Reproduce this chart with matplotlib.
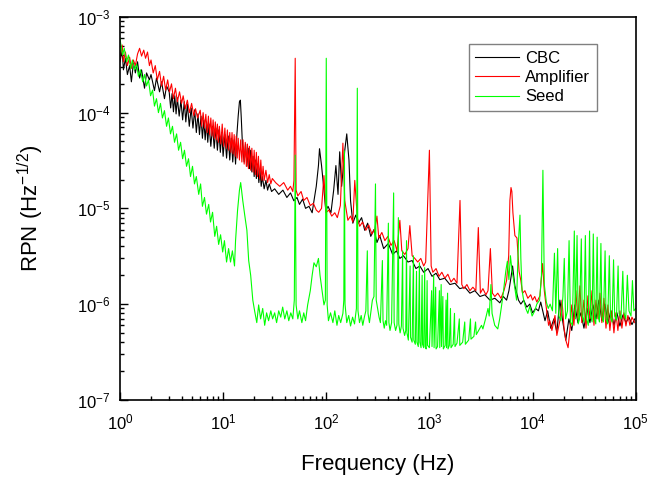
import matplotlib
matplotlib.use("Agg")
import matplotlib.pyplot as plt

plt.rcParams['font.family'] = ['Liberation Sans', 'DejaVu Sans']
plt.rcParams['mathtext.default'] = 'regular'

# (frequency Hz, RPN Hz^-1/2)
cbc_points = [
    (1.0, 3.4e-4), (1.05, 4.5e-4), (1.08, 2.8e-4), (1.13, 3.7e-4), (1.18, 2.5e-4),
    (1.24, 3.1e-4), (1.29, 2.1e-4), (1.35, 3.3e-4), (1.41, 2.6e-4), (1.48, 3.4e-4),
    (1.55, 2.3e-4), (1.62, 2.8e-4), (1.73, 1.8e-4), (1.81, 2.6e-4), (1.93, 2.2e-4),
    (2.0, 2.5e-4), (2.16, 1.7e-4), (2.26, 2.3e-4), (2.42, 1.65e-4), (2.53, 2.1e-4),
    (2.7, 1.4e-4), (2.83, 1.9e-4),
    (3.0, 1.65e-4), (3.1, 1.12e-4), (3.2, 1.58e-4), (3.3, 1.02e-4), (3.4, 1.5e-4),
    (3.5, 9.7e-5), (3.6, 1.43e-4), (3.75, 9.2e-5), (3.9, 1.35e-4), (4.05, 8.4e-5),
    (4.2, 1.3e-4), (4.35, 8e-5), (4.5, 1.23e-4), (4.7, 7.2e-5), (4.9, 1.12e-4),
    (5.1, 6.9e-5), (5.3, 1.07e-4), (5.5, 6.2e-5), (5.7, 9.7e-5), (5.9, 5.9e-5),
    (6.1, 9.2e-5), (6.3, 5.4e-5), (6.5, 8.4e-5), (6.7, 5.2e-5), (6.9, 8e-5),
    (7.1, 4.9e-5), (7.3, 7.6e-5), (7.6, 4.45e-5), (7.9, 7.2e-5), (8.2, 4.25e-5),
    (8.5, 6.9e-5), (8.8, 4.05e-5), (9.1, 6.6e-5), (9.4, 3.85e-5), (9.7, 6.2e-5),
    (10.0, 3.5e-5), (10.4, 5.9e-5), (10.8, 3.35e-5), (11.2, 5.7e-5), (11.6, 3.2e-5),
    (12.0, 5.4e-5), (12.4, 3.05e-5), (12.8, 5.2e-5), (13.2, 2.9e-5), (13.6, 5.9e-5),
    (14.0, 9.2e-5), (14.4, 1.3e-4), (14.7, 1.35e-4), (15.0, 8.8e-5), (15.4, 4.6e-5),
    (16.0, 3.05e-5), (16.5, 4.7e-5), (17.0, 2.75e-5), (17.5, 4.25e-5), (18.0, 2.6e-5),
    (18.5, 4.05e-5), (19.0, 2.4e-5), (19.5, 3.5e-5), (20.0, 2.15e-5), (20.5, 3.2e-5),
    (21.0, 2.05e-5), (21.6, 2.9e-5), (22.2, 1.86e-5), (22.8, 2.5e-5), (23.4, 1.7e-5),
    (24.0, 2.15e-5), (25.0, 1.6e-5), (26.0, 1.96e-5), (27.0, 1.55e-5), (28.0, 1.8e-5),
    (29.5, 1.5e-5), (31.6, 1.6e-5), (34.6, 1.4e-5), (38, 1.55e-5), (41.5, 1.3e-5),
    (45, 1.45e-5), (48.5, 1.2e-5), (52, 1.3e-5), (55, 1.1e-5), (59, 1.25e-5),
    (63, 1e-5), (68, 1.05e-5), (73, 9e-6), (76, 1.2e-5), (80, 1.7e-5),
    (84, 2.8e-5), (86, 4.2e-5), (90, 2.8e-5), (95, 1.55e-5), (99, 9.5e-6),
    (104, 1.05e-5), (111, 9e-6), (118, 1.55e-5), (124, 2.8e-5), (130, 1.4e-5),
    (135, 3.9e-5), (141, 1.7e-5), (151, 4e-5), (158, 6e-5), (166, 3.2e-5),
    (172, 1.2e-5), (181, 7e-6), (193, 8.5e-6), (205, 7e-6), (220, 8e-6),
    (236, 5.9e-6), (252, 7e-6), (270, 5.1e-6), (290, 6e-6), (310, 4.4e-6),
    (330, 5.2e-6), (360, 3.8e-6), (400, 4.3e-6), (440, 3.3e-6), (480, 3.6e-6),
    (517, 3e-6), (560, 3.2e-6), (620, 2.75e-6), (680, 2.85e-6), (740, 2.35e-6),
    (808, 2.5e-6), (880, 2.15e-6), (970, 2.35e-6), (1060, 1.95e-6), (1160, 2.1e-6),
    (1260, 1.8e-6), (1410, 1.86e-6), (1580, 1.6e-6), (1770, 1.65e-6), (1970, 1.45e-6),
    (2210, 1.5e-6), (2470, 1.3e-6), (2760, 1.38e-6), (3090, 1.2e-6), (3450, 1.25e-6),
    (3860, 1.1e-6), (4310, 1.15e-6), (4820, 1.03e-6), (5200, 1.2e-6), (5600, 1.1e-6),
    (5900, 1.38e-6), (6200, 1.95e-6), (6400, 2.5e-6), (6740, 1.55e-6), (7300, 1.1e-6),
    (7700, 1.0e-6), (8200, 1.1e-6), (8800, 9.3e-7), (9400, 1.0e-6), (10000, 8.1e-7),
    (10700, 9e-7), (11400, 8.5e-7), (12000, 1.05e-6), (13200, 6.7e-7), (14000, 8.5e-7),
    (15000, 5.6e-7), (16100, 7e-7), (17200, 5.1e-7), (18400, 1.1e-6), (19700, 6.4e-7),
    (21000, 4.2e-7), (22500, 7e-7), (24000, 5.3e-7), (25700, 9.8e-7), (27500, 6.4e-7),
    (29400, 8.1e-7), (31500, 5.6e-7), (33700, 9e-7), (36000, 6.4e-7), (38500, 9.8e-7),
    (41200, 7e-7), (44000, 1.1e-6), (47000, 6.7e-7), (50300, 1e-6), (53800, 6.4e-7),
    (57500, 8.5e-7), (61500, 6e-7), (65800, 8.1e-7), (70300, 5.9e-7), (75200, 7.7e-7),
    (80400, 6.4e-7), (86000, 7.3e-7), (92000, 6.1e-7), (98000, 7e-7),
]

amp_points = [
    (1.0, 3.7e-4), (1.05, 5.1e-4), (1.08, 3.4e-4), (1.13, 4.3e-4), (1.18, 3.1e-4),
    (1.24, 3.8e-4), (1.29, 2.9e-4), (1.35, 3.55e-4), (1.41, 3.1e-4), (1.48, 4.1e-4),
    (1.55, 4.7e-4), (1.62, 3.9e-4), (1.7, 4.5e-4), (1.77, 3.7e-4), (1.85, 4.3e-4),
    (1.93, 3.1e-4), (2.0, 3.55e-4), (2.1, 2.6e-4), (2.2, 3.1e-4), (2.3, 2.2e-4),
    (2.42, 2.7e-4), (2.53, 1.9e-4), (2.65, 2.4e-4), (2.77, 1.72e-4), (2.9, 2.2e-4),
    (3.02, 1.65e-4), (3.16, 2e-4), (3.3, 1.4e-4), (3.45, 1.8e-4), (3.6, 1.3e-4),
    (3.78, 1.65e-4), (3.96, 1.25e-4), (4.1, 1.5e-4), (4.3, 1.1e-4), (4.5, 1.35e-4),
    (4.72, 1e-4), (4.95, 1.25e-4), (5.2, 9.3e-5), (5.4, 1.1e-4), (5.65, 8.8e-5),
    (6.0, 1.06e-4), (6.2, 7.2e-5), (6.4, 1.0e-4), (6.6, 6.9e-5), (6.8, 9.6e-5),
    (7.0, 6.2e-5), (7.2, 9.2e-5), (7.4, 5.9e-5), (7.6, 8.8e-5), (7.8, 5.7e-5),
    (8.0, 8.4e-5), (8.2, 5.4e-5), (8.4, 8e-5), (8.6, 5.2e-5), (8.8, 7.6e-5),
    (9.0, 4.9e-5), (9.2, 7.2e-5), (9.5, 4.7e-5), (9.8, 7.6e-5), (10.1, 4.45e-5),
    (10.4, 6.9e-5), (10.7, 4.25e-5), (11.0, 6.6e-5), (11.3, 4.05e-5), (11.6, 6.2e-5),
    (11.9, 3.85e-5), (12.2, 6.2e-5), (12.5, 3.7e-5), (12.8, 5.9e-5), (13.1, 3.5e-5),
    (13.4, 5.7e-5), (13.7, 3.35e-5), (14.0, 5.4e-5), (14.4, 3.2e-5), (14.8, 5.2e-5),
    (15.2, 3.05e-5), (15.6, 5.2e-5), (16.0, 2.9e-5), (16.4, 4.9e-5), (16.8, 2.75e-5),
    (17.2, 4.7e-5), (17.6, 2.6e-5), (18.0, 4.45e-5), (18.5, 2.5e-5), (19.0, 4.25e-5),
    (19.5, 2.4e-5), (20.0, 4.05e-5), (20.5, 2.25e-5), (21.0, 3.85e-5), (21.5, 2.15e-5),
    (22.0, 3.5e-5), (22.6, 2.05e-5), (23.2, 3.2e-5), (23.8, 1.96e-5), (24.4, 2.75e-5),
    (25.0, 1.96e-5), (26.0, 2.5e-5), (27.0, 1.86e-5), (28.0, 2.25e-5), (29.0, 1.8e-5),
    (30.0, 2.05e-5), (32.4, 1.85e-5), (35.4, 1.7e-5), (38.7, 1.86e-5), (42.3, 1.55e-5),
    (45, 1.7e-5), (47.4, 1.5e-5), (48.6, 1.96e-5), (50, 3.7e-4), (51, 1.55e-5),
    (53, 1.35e-5), (57, 1.5e-5), (60.5, 1.21e-5), (65, 1.3e-5), (70, 1.07e-5),
    (75, 1.13e-5), (80, 9.6e-6), (84.5, 9.1e-6), (90, 1e-5), (95, 2.2e-5),
    (99, 9e-6), (106, 9.6e-6), (113, 8.3e-6), (121, 9e-6), (128, 8e-6),
    (137, 1.07e-5), (145, 4.8e-5), (151, 1.21e-5), (162, 7.5e-6), (172, 8.3e-6),
    (181, 7.2e-6), (189, 1.96e-5), (200, 8e-6), (211, 6.5e-6), (225, 7.2e-6),
    (242, 5.9e-6), (258, 6.7e-6), (277, 5.4e-6), (296, 6.1e-6), (310, 8.3e-6),
    (323, 4.9e-6), (346, 5.6e-6), (370, 4.6e-6), (396, 5.1e-6), (424, 4.1e-6),
    (455, 4.6e-6), (485, 3.6e-6), (517, 7.5e-6), (540, 3.6e-6), (578, 3.3e-6),
    (620, 3.8e-6), (646, 6.6e-6), (680, 3.2e-6), (722, 3e-6), (770, 2.75e-6),
    (825, 3e-6), (880, 2.5e-6), (920, 2.75e-6), (1000, 4.05e-5), (1040, 2.5e-6),
    (1080, 2.15e-6), (1160, 2.35e-6), (1240, 1.95e-6), (1320, 2.15e-6), (1410, 1.86e-6),
    (1510, 2.05e-6), (1620, 1.7e-6), (1730, 1.86e-6), (1850, 1.65e-6), (1980, 1.21e-5),
    (2060, 1.6e-6), (2160, 1.45e-6), (2310, 1.6e-6), (2470, 1.38e-6), (2640, 1.5e-6),
    (2820, 1.38e-6), (2980, 6.3e-6), (3120, 1.3e-6), (3300, 1.45e-6), (3530, 1.25e-6),
    (3700, 1.38e-6), (3900, 3.8e-6), (4080, 1.3e-6), (4310, 1.2e-6), (4600, 1.3e-6),
    (4940, 1.15e-6), (5280, 1.38e-6), (5600, 1.76e-6), (5870, 3.2e-6), (6030, 1.21e-5),
    (6180, 1.65e-5), (6300, 1.5e-5), (6450, 9e-6), (6740, 5.2e-6), (7060, 4.9e-6),
    (7400, 2.2e-6), (7700, 1.76e-6), (8000, 1.3e-6), (8430, 1.38e-6), (9000, 1.15e-6),
    (9600, 1.25e-6), (10000, 1.1e-6), (10500, 1.2e-6), (11000, 1.05e-6), (11800, 1.22e-6),
    (12500, 2.65e-6), (13000, 1.38e-6), (13700, 8.5e-7), (14300, 6e-7), (14700, 6.7e-7),
    (15400, 5.3e-7), (16500, 7.6e-7), (17200, 4.7e-7), (18400, 6.7e-7), (19300, 1.1e-6),
    (20200, 5.6e-7), (21000, 4.2e-7), (22100, 3.5e-7), (23000, 5.3e-7), (24000, 9.8e-7),
    (25200, 6e-7), (26300, 1.38e-6), (27500, 7e-7), (28800, 1.55e-6), (30000, 6.4e-7),
    (31500, 1.1e-6), (33000, 5.6e-7), (34400, 1.22e-6), (36000, 7e-7), (37700, 1.38e-6),
    (39400, 6e-7), (41200, 1.1e-6), (43100, 7e-7), (45000, 1.3e-6), (47000, 6.4e-7),
    (49200, 1.15e-6), (51500, 5.6e-7), (53800, 9.8e-7), (56200, 5.3e-7), (58800, 8.5e-7),
    (61500, 5e-7), (64300, 8.1e-7), (67200, 5.3e-7), (70300, 8.5e-7), (73500, 5.6e-7),
    (76800, 8.1e-7), (80400, 5.9e-7), (84000, 7.6e-7), (87900, 6e-7), (92000, 7.3e-7),
    (98000, 6.4e-7),
]

seed_points = [
    (1.0, 6e-4), (1.01, 5.5e-4), (1.06, 4e-4), (1.1, 4.7e-4), (1.16, 3.4e-4),
    (1.21, 4e-4), (1.27, 2.9e-4), (1.32, 3.55e-4), (1.38, 2.8e-4), (1.45, 3.2e-4),
    (1.51, 2.4e-4), (1.58, 2.8e-4), (1.66, 2.1e-4), (1.73, 2.5e-4), (1.81, 1.9e-4),
    (1.89, 2.2e-4), (1.98, 1.5e-4), (2.07, 1.72e-4), (2.16, 1.17e-4), (2.26, 1.4e-4),
    (2.36, 1.0e-4), (2.47, 1.25e-4), (2.58, 8.8e-5), (2.7, 1.05e-4), (2.83, 7.2e-5),
    (2.95, 8.8e-5), (3.09, 6e-5), (3.23, 7.2e-5), (3.38, 4.9e-5), (3.54, 6e-5),
    (3.7, 4.05e-5), (3.87, 4.9e-5), (4.05, 3.3e-5), (4.22, 4.05e-5), (4.42, 2.75e-5),
    (4.62, 3.3e-5), (4.83, 2.15e-5), (5.05, 2.75e-5), (5.28, 1.8e-5), (5.5, 2.15e-5),
    (5.8, 1.4e-5), (6.05, 1.8e-5), (6.3, 1.05e-5), (6.6, 1.3e-5), (6.9, 8.7e-6),
    (7.25, 1.1e-5), (7.55, 7.2e-6), (7.9, 9.1e-6), (8.3, 5.1e-6), (8.65, 6.5e-6),
    (9.05, 4.2e-6), (9.45, 5.3e-6), (9.9, 3.5e-6), (10.3, 4.6e-6), (10.8, 2.75e-6),
    (11.3, 3.8e-6), (11.8, 2.75e-6), (12.3, 3.6e-6), (12.9, 2.5e-6), (13.2, 4.6e-6),
    (13.8, 9.5e-6), (14.4, 1.55e-5), (14.8, 1.86e-5), (15.5, 1.21e-5), (16.2, 8.5e-6),
    (17.0, 5.9e-6), (17.7, 2.85e-6), (18.5, 2e-6), (19.4, 1.1e-6), (20.2, 8.5e-7),
    (21.2, 6.4e-7), (22.1, 9.8e-7), (23.1, 7e-7), (24.2, 9e-7), (25.3, 6e-7),
    (26.4, 8.1e-7), (27.6, 6.7e-7), (29, 8.5e-7), (30.2, 7e-7), (31.6, 8.1e-7),
    (33, 6.4e-7), (34.6, 8.5e-7), (36.2, 7.3e-7), (37.8, 9.3e-7), (39.6, 7e-7),
    (41.5, 8.5e-7), (43.3, 6.7e-7), (45.3, 8.1e-7), (47.4, 7e-7), (49, 1.1e-6),
    (50, 3.6e-5), (51, 9.8e-7), (53, 7e-7), (55, 8.5e-7), (58, 6.4e-7),
    (60.5, 8.1e-7), (63, 6.7e-7), (66, 9.8e-7), (70, 1.38e-6), (73, 2e-6),
    (76, 2.7e-6), (80, 2.45e-6), (84, 3e-6), (87, 2e-6), (91, 1.38e-6),
    (95, 9.8e-7), (98, 1.1e-6), (100, 3.7e-4), (102, 9.8e-7), (105, 6.7e-7),
    (110, 8.1e-7), (116, 6.4e-7), (121, 8.5e-7), (127, 6e-7), (132, 7.6e-7),
    (138, 6.4e-7), (145, 8e-7), (148, 1.1e-6), (150, 4.0e-5), (152, 1.0e-6),
    (158, 6.4e-7), (165, 7.6e-7), (172, 5.9e-7), (180, 7.3e-7), (188, 6.2e-7),
    (196, 9e-7), (200, 1.8e-4), (203, 8.5e-7), (210, 6.4e-7), (218, 7.6e-7),
    (226, 6e-7), (234, 7.3e-7), (242, 8.5e-7), (250, 3.6e-6), (254, 8e-7),
    (262, 6.4e-7), (270, 8.1e-7), (280, 1.1e-6), (290, 1.2e-6), (300, 1.8e-5),
    (305, 1.1e-6), (315, 9e-7), (325, 7.3e-7), (335, 6.4e-7), (350, 2.85e-6),
    (355, 6.7e-7), (365, 5.6e-7), (375, 6.7e-7), (385, 6e-7), (400, 7e-6),
    (405, 6.4e-7), (415, 5.3e-7), (430, 6.4e-7), (450, 1.45e-5), (455, 6.4e-7),
    (470, 5.3e-7), (485, 6e-7), (500, 8e-6), (505, 6.2e-7), (520, 5e-7),
    (535, 5.9e-7), (550, 3.6e-6), (555, 5.6e-7), (575, 4.7e-7), (590, 5.3e-7),
    (600, 4.6e-6), (606, 5e-7), (625, 4.2e-7), (650, 2.5e-6), (656, 4.5e-7),
    (680, 4e-7), (700, 3.2e-6), (706, 4.2e-7), (730, 3.8e-7), (750, 2.2e-6),
    (757, 4e-7), (780, 3.6e-7), (800, 2.7e-6), (808, 4e-7), (830, 3.5e-7),
    (850, 2e-6), (858, 3.8e-7), (880, 3.5e-7), (900, 2.4e-6), (910, 3.6e-7),
    (930, 3.4e-7), (950, 1.76e-6), (960, 3.7e-7), (1000, 3.5e-7), (1050, 1.38e-6),
    (1060, 3.6e-7), (1100, 2e-6), (1110, 3.5e-7), (1150, 1.5e-6), (1160, 3.4e-7),
    (1200, 3.6e-7), (1250, 1.38e-6), (1260, 3.5e-7), (1300, 1.6e-6), (1310, 3.6e-7),
    (1350, 1.2e-6), (1365, 3.4e-7), (1420, 3.7e-7), (1450, 1.1e-6), (1465, 3.5e-7),
    (1500, 1.3e-6), (1515, 3.4e-7), (1560, 3.7e-7), (1600, 9e-7), (1620, 3.5e-7),
    (1700, 3.8e-7), (1750, 8e-7), (1770, 3.6e-7), (1850, 3.9e-7), (1950, 7e-7),
    (1970, 3.7e-7), (2100, 4e-7), (2200, 6.5e-7), (2230, 3.8e-7), (2400, 4.2e-7),
    (2500, 7e-7), (2530, 4.3e-7), (2700, 4.6e-7), (2800, 6.5e-7), (2850, 4.8e-7),
    (3000, 5.3e-7), (3200, 6e-7), (3300, 5.5e-7), (3500, 7e-7), (3700, 9e-7),
    (3800, 7.5e-7), (3950, 1.6e-6), (4050, 8e-7), (4300, 6e-7), (4600, 5.5e-7),
    (4800, 7e-7), (5000, 9.5e-7), (5200, 1.3e-6), (5500, 2.2e-6), (5700, 2.8e-6),
    (5900, 1.8e-6), (6100, 3.2e-6), (6300, 2.3e-6), (6600, 1.7e-6), (7000, 1.1e-6),
    (7300, 4.5e-6), (7550, 8.5e-6), (7700, 3e-6), (7900, 1.4e-6), (8200, 1.1e-6),
    (8600, 9e-7), (9000, 8e-7), (9400, 9.5e-7), (9900, 7.5e-7), (10500, 8.5e-7),
    (11000, 1e-6), (11700, 1.1e-6), (12200, 2e-6), (12600, 2.5e-5), (13000, 1.6e-6),
    (13600, 1.05e-6), (14200, 9e-7), (14800, 1.0e-6), (15600, 8.5e-7), (16300, 3.4e-6),
    (16800, 8e-7), (17500, 3.8e-6), (18000, 7.5e-7), (18800, 6.7e-7), (19700, 1.2e-6),
    (20300, 3e-6), (20900, 7e-7), (21800, 8.5e-7), (22600, 4.6e-6), (23300, 6.5e-7),
    (24300, 6e-7), (25400, 5.8e-6), (26000, 7e-7), (27000, 5.2e-6), (27700, 6.2e-7),
    (28500, 7e-7), (29700, 4.8e-6), (30300, 7.5e-7), (31500, 6.5e-7), (32500, 5.2e-6),
    (33300, 7e-7), (34700, 6e-7), (35700, 5.8e-6), (36500, 7.5e-7), (37800, 6.5e-7),
    (38800, 5.4e-6), (39800, 7e-7), (41000, 6.2e-7), (42300, 5e-6), (43200, 7.5e-7),
    (44500, 6.5e-7), (46000, 4.3e-6), (47000, 7.5e-7), (48600, 6.5e-7), (50500, 3.6e-6),
    (51600, 7e-7), (53500, 6.2e-7), (55500, 3.2e-6), (57000, 7.2e-7), (59000, 6.5e-7),
    (61000, 2.9e-6), (62500, 7.5e-7), (65000, 6.8e-7), (67500, 2.5e-6), (69000, 8e-7),
    (72000, 7e-7), (75000, 2.2e-6), (77000, 8e-7), (80000, 7e-7), (83000, 2e-6),
    (86000, 8.5e-7), (90000, 7.5e-7), (93000, 1.76e-6), (96000, 8.5e-7), (100000, 9e-7),
]

series = [
    ("CBC", cbc_points, "#000000"),
    ("Amplifier", amp_points, "#ff0000"),
    ("Seed", seed_points, "#00ff00"),
]

fig = plt.figure(figsize=(6.52, 4.84), dpi=100)
ax = fig.add_axes([0.184, 0.174, 0.791, 0.791])

for label, pts, color in series:
    f, v = zip(*pts)
    ax.plot(f, v, color=color, lw=0.8, label=label)

ax.set_xscale("log")
ax.set_yscale("log")
ax.set_xlim(1, 1e5)
ax.set_ylim(1e-7, 1e-3)

ax.tick_params(which="both", direction="in", top=False, right=False, labelsize=12)
ax.tick_params(which="major", length=6, width=1)
ax.tick_params(which="minor", length=3, width=1)
ax.tick_params(axis="x", pad=9)
ax.tick_params(axis="y", pad=7)
for s in ax.spines.values():
    s.set_linewidth(1.2)

ax.set_xlabel("Frequency (Hz)", fontsize=16, labelpad=16)
ax.set_ylabel("RPN (Hz$^{-1/2}$)", fontsize=16, labelpad=22)

leg = ax.legend(loc="upper left", bbox_to_anchor=(0.66, 0.95), fontsize=12,
                handlelength=2.6, labelspacing=0.25, fancybox=False, framealpha=1,
                borderpad=0.4, handletextpad=0.4)
leg.get_frame().set_edgecolor("#808080")
leg.get_frame().set_linewidth(1.0)

fig.savefig("out.png")
